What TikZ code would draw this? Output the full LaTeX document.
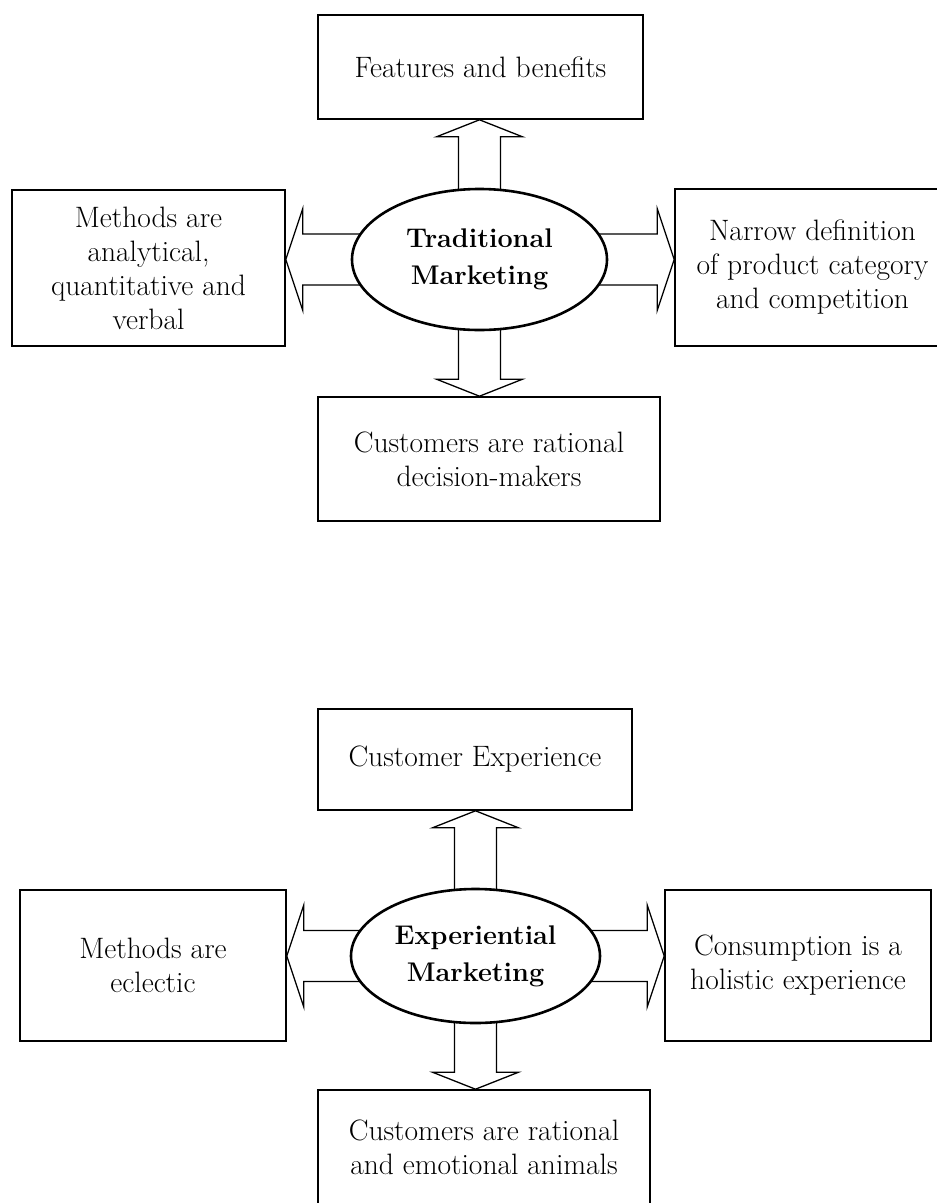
\documentclass[tikz,border=0pt]{standalone}
\usetikzlibrary{shapes.geometric,calc}
\tikzset{
  box/.style={draw, line width=1.6pt, align=center, inner sep=0pt,
    font=\fontsize{29.5}{34}\selectfont},
  core/.style={ellipse, draw, fill=white, line width=2.6pt, inner sep=0pt,
    align=center, font=\fontsize{27}{37}\selectfont\bfseries},
  barrow/.style={draw, fill=white, line width=1.3pt, line join=miter},
}
% block arrows: #1 = centre ellipse, #2 = target box
\newcommand\arrUp[2]{\draw[barrow] let \p1=(#1.center),\p2=(#2.south) in
  (\x1,\y2) -- ({\x1-43pt},{\y2-17pt}) -- ({\x1-21pt},{\y2-17pt}) -- ({\x1-21pt},\y1)
  -- ({\x1+21pt},\y1) -- ({\x1+21pt},{\y2-17pt}) -- ({\x1+43pt},{\y2-17pt}) -- cycle;}
\newcommand\arrDown[2]{\draw[barrow] let \p1=(#1.center),\p2=(#2.north) in
  (\x1,\y2) -- ({\x1-43pt},{\y2+17pt}) -- ({\x1-21pt},{\y2+17pt}) -- ({\x1-21pt},\y1)
  -- ({\x1+21pt},\y1) -- ({\x1+21pt},{\y2+17pt}) -- ({\x1+43pt},{\y2+17pt}) -- cycle;}
\newcommand\arrLeft[2]{\draw[barrow] let \p1=(#1.center),\p2=(#2.east) in
  (\x2,\y1) -- ({\x2+17pt},{\y1+51pt}) -- ({\x2+17pt},{\y1+25.5pt}) -- (\x1,{\y1+25.5pt})
  -- (\x1,{\y1-25.5pt}) -- ({\x2+17pt},{\y1-25.5pt}) -- ({\x2+17pt},{\y1-51pt}) -- cycle;}
\newcommand\arrRight[2]{\draw[barrow] let \p1=(#1.center),\p2=(#2.west) in
  (\x2,\y1) -- ({\x2-17pt},{\y1+51pt}) -- ({\x2-17pt},{\y1+25.5pt}) -- (\x1,{\y1+25.5pt})
  -- (\x1,{\y1-25.5pt}) -- ({\x2-17pt},{\y1-25.5pt}) -- ({\x2-17pt},{\y1-51pt}) -- cycle;}
\begin{document}
\begin{tikzpicture}[x=1pt,y=-1pt]
\useasboundingbox (0,0) rectangle (937,1203);
\clip (0,0) rectangle (937,1203);

% ---------- Traditional marketing ----------
\node[box, minimum width=325pt, minimum height=104pt] (topA) at (480.5,67) {Features and benefits};
\node[box, minimum width=273pt, minimum height=156pt] (leftA) at (148.5,268)
  {Methods are\\analytical,\\quantitative and\\verbal};
\node[box, minimum width=275pt, minimum height=157pt] (rightA) at (812.5,267.5)
  {Narrow definition\\of product category\\and competition};
\node[box, minimum width=342pt, minimum height=124pt] (botA) at (489,459)
  {Customers are rational\\decision-makers};
\coordinate (cA) at (479.5,259.5);
\arrUp{cA}{topA}
\arrDown{cA}{botA}
\arrLeft{cA}{leftA}
\arrRight{cA}{rightA}
\node[core, minimum width=255pt, minimum height=141pt] (ellA) at (cA) {Traditional\\Marketing};

% ---------- Experiential marketing ----------
\node[box, minimum width=314pt, minimum height=101pt] (topB) at (475,759.5) {Customer Experience};
\node[box, minimum width=266pt, minimum height=151pt] (leftB) at (153,965.5)
  {Methods are\\eclectic};
\node[box, minimum width=266pt, minimum height=151pt] (rightB) at (798,965.5)
  {Consumption is a\\holistic experience};
\node[box, minimum width=332pt, minimum height=115pt] (botB) at (484,1147.5)
  {Customers are rational\\and emotional animals};
\coordinate (cB) at (475.5,956);
\arrUp{cB}{topB}
\arrDown{cB}{botB}
\arrLeft{cB}{leftB}
\arrRight{cB}{rightB}
\node[core, minimum width=249pt, minimum height=134pt] (ellB) at (cB) {Experiential\\Marketing};
\end{tikzpicture}
\end{document}
